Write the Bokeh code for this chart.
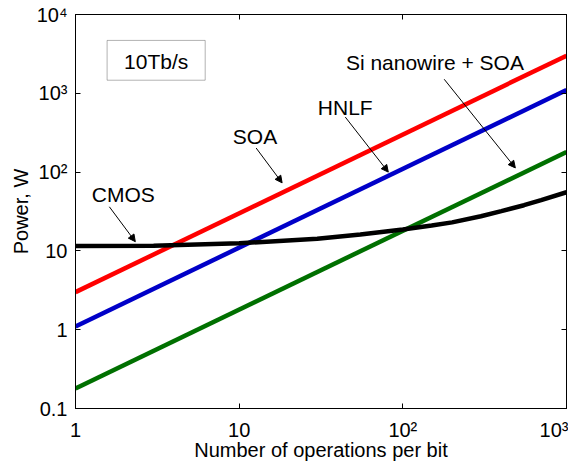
from bokeh.plotting import figure
from bokeh.models import (LogAxis, FixedTicker, Label, Arrow, NormalHead, BoxAnnotation, Range1d)
from bokeh.embed import file_html
from bokeh.resources import INLINE

# ---- data ----
ops = [1, 1000]
soa = [3.0, 3000.0]
hnlf = [1.1, 1100.0]
si_soa = [0.18, 180.0]
cmos_ops = [1, 3, 10, 30, 55, 100, 150, 200, 300, 400, 550, 700, 1000]
cmos_pow = [11.5, 11.6, 12.5, 14.3, 16.2, 18.7, 21.0, 23.0, 27.5, 32.0, 38.0, 44.0, 55.6]

x_ticks = [1, 10, 100, 1000]
x_tick_labels = ["1", "10", "10²", "10³"]
y_ticks = [0.1, 1, 10, 100, 1000, 10000]
y_tick_labels = ["0.1", "1", "10", "10²", "10³", "10⁴"]

FONT = "Liberation Sans"

p = figure(width=568, height=463, x_axis_type="log", y_axis_type="log",
           x_range=Range1d(1, 1000), y_range=Range1d(0.1, 10000),
           output_backend="svg", toolbar_location=None,
           min_border_left=75, min_border_top=14, min_border_right=2, min_border_bottom=40)
p.xgrid.visible = False
p.ygrid.visible = False
p.outline_line_color = "black"
p.outline_line_width = 1
p.background_fill_color = "white"
p.border_fill_color = "white"

def style_axis(ax, ticks, labels, show_labels=True):
    ax.ticker = FixedTicker(ticks=ticks, minor_ticks=[])
    ax.major_tick_in = 5
    ax.major_tick_out = 0
    ax.minor_tick_in = 0
    ax.minor_tick_out = 0
    ax.axis_line_color = "black"
    ax.major_tick_line_color = "black"
    ax.major_label_text_font = FONT
    ax.major_label_text_color = "black"
    ax.axis_label_text_font = FONT
    ax.axis_label_text_font_style = "normal"
    ax.axis_label_text_color = "black"
    if show_labels:
        ax.major_label_overrides = {t: l for t, l in zip(ticks, labels)}
        ax.major_label_text_font_size = "20px"
        ax.axis_label_text_font_size = "20px"
    else:
        ax.major_label_overrides = {t: "" for t in ticks}
        ax.major_label_text_font_size = "1px"
        ax.major_label_standoff = 0

style_axis(p.xaxis[0], x_ticks, x_tick_labels)
style_axis(p.yaxis[0], y_ticks, y_tick_labels)
p.xaxis[0].axis_label = "Number of operations per bit"
p.yaxis[0].axis_label = "Power, W"
p.xaxis[0].major_label_standoff = 10
p.xaxis[0].axis_label_standoff = -5
p.yaxis[0].major_label_standoff = 8
p.yaxis[0].axis_label_standoff = 2

top_ax = LogAxis()
style_axis(top_ax, x_ticks, x_tick_labels, show_labels=False)
p.add_layout(top_ax, "above")
right_ax = LogAxis()
style_axis(right_ax, y_ticks, y_tick_labels, show_labels=False)
p.add_layout(right_ax, "right")

# ---- lines ----
p.line(ops, soa, line_color="#ff0000", line_width=4.5)
p.line(ops, hnlf, line_color="#0000c8", line_width=4.5)
p.line(ops, si_soa, line_color="#007000", line_width=4.5)
p.line(cmos_ops, cmos_pow, line_color="black", line_width=4.5)

# ---- annotations ----
labels = [
    ("10Tb/s", 3.11, 2545),
    ("SOA", 12.5, 279),
    ("CMOS", 1.96, 51.5),
    ("HNLF", 44.5, 667),
    ("Si nanowire + SOA", 157, 2473),
]
for txt, x, y in labels:
    p.add_layout(Label(x=x, y=y, text=txt, text_font=FONT, text_font_size="21px",
                       text_align="center", text_baseline="middle", text_color="black"))

p.add_layout(BoxAnnotation(left=1.56, right=6.2, bottom=1466, top=4690,
                           fill_alpha=0, line_color="black", line_width=1))

arrows = [
    (12.7, 202, 18.3, 73),
    (1.61, 36.3, 2.32, 13.1),
    (44.5, 499, 81.5, 100),
    (179, 1507, 487, 113),
]
for xs, ys, xe, ye in arrows:
    p.add_layout(Arrow(x_start=xs, y_start=ys, x_end=xe, y_end=ye,
                       line_color="black", line_width=1,
                       end=NormalHead(size=7, fill_color="black", line_color="black", line_width=1)))

open("out.html", "w").write(file_html(p, INLINE))
